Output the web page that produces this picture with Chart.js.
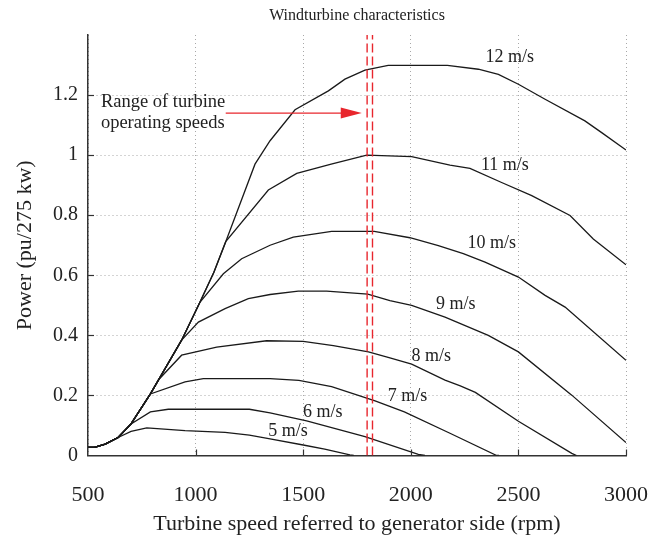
<!DOCTYPE html>
<html>
<head>
<meta charset="utf-8">
<title>Windturbine characteristics</title>
<script src="https://cdn.jsdelivr.net/npm/chart.js@4.4.0/dist/chart.umd.min.js"></script>
<style>
  html, body { margin: 0; padding: 0; background: #fff; }
  #wrap { width: 668px; height: 545px; }
</style>
</head>
<body>
<div id="wrap"><canvas id="windChart" width="668" height="545"></canvas></div>
<script>
// Turbine speed (rpm) and power (pu), one pair per wind speed
const rpm5  = [500, 530, 580, 640, 700, 773, 951, 1137, 1250, 1346, 1500, 1600, 1717, 1735];
const pow5  = [0.027, 0.027, 0.038, 0.060, 0.080, 0.092, 0.083, 0.077, 0.068, 0.055, 0.035, 0.021, 0.002, 0];

const rpm6  = [500, 530, 580, 640, 700, 790, 873, 1250, 1346, 1516, 1787, 2035, 2066];
const pow6  = [0.027, 0.027, 0.038, 0.060, 0.105, 0.145, 0.154, 0.154, 0.142, 0.115, 0.063, 0.004, 0];

const rpm7  = [500, 530, 580, 640, 700, 790, 951, 1036, 1346, 1480, 1632, 1834, 1970, 2182, 2399, 2410];
const pow7  = [0.027, 0.027, 0.038, 0.060, 0.105, 0.205, 0.245, 0.256, 0.256, 0.250, 0.229, 0.182, 0.145, 0.074, 0, 0];

const rpm8  = [500, 530, 580, 640, 700, 790, 830, 935, 1098, 1330, 1500, 1640, 1803, 1903, 2004, 2159, 2230, 2300, 2500, 2748, 2770];
const pow8  = [0.027, 0.027, 0.038, 0.060, 0.105, 0.205, 0.254, 0.334, 0.361, 0.382, 0.380, 0.366, 0.345, 0.325, 0.304, 0.251, 0.232, 0.210, 0.114, 0.007, 0];

const rpm9  = [500, 530, 580, 640, 700, 790, 935, 1013, 1137, 1245, 1346, 1477, 1609, 1800, 1903, 2004, 2159, 2360, 2500, 2748, 3000];
const pow9  = [0.027, 0.027, 0.038, 0.060, 0.105, 0.205, 0.384, 0.444, 0.489, 0.522, 0.536, 0.547, 0.547, 0.537, 0.516, 0.500, 0.461, 0.400, 0.345, 0.201, 0.043];

const rpm10 = [500, 530, 580, 640, 700, 790, 935, 1000, 1020, 1129, 1214, 1346, 1454, 1632, 1830, 1996, 2128, 2244, 2345, 2500, 2624, 2717, 3000];
const pow10 = [0.027, 0.027, 0.038, 0.060, 0.105, 0.205, 0.384, 0.480, 0.510, 0.605, 0.655, 0.700, 0.727, 0.746, 0.746, 0.725, 0.699, 0.672, 0.644, 0.594, 0.533, 0.494, 0.317];

const rpm11 = [500, 530, 580, 640, 700, 790, 935, 1000, 1020, 1085, 1140, 1338, 1470, 1630, 1795, 2004, 2182, 2275, 2422, 2562, 2740, 2848, 3000];
const pow11 = [0.027, 0.027, 0.038, 0.060, 0.105, 0.205, 0.384, 0.480, 0.510, 0.610, 0.712, 0.884, 0.939, 0.970, 1.000, 0.995, 0.967, 0.956, 0.909, 0.865, 0.799, 0.721, 0.635];

const rpm12 = [500, 530, 580, 640, 700, 790, 935, 1000, 1020, 1085, 1140, 1276, 1346, 1462, 1617, 1694, 1787, 1895, 2170, 2314, 2407, 2500, 2624, 2809, 2887, 3000];
const pow12 = [0.027, 0.027, 0.038, 0.060, 0.105, 0.205, 0.384, 0.480, 0.510, 0.610, 0.712, 0.970, 1.048, 1.151, 1.214, 1.253, 1.283, 1.299, 1.299, 1.286, 1.269, 1.236, 1.186, 1.114, 1.075, 1.017];

// curve labels (anchored in data units)
const speedNames = ['5 m/s', '6 m/s', '7 m/s', '8 m/s', '9 m/s', '10 m/s', '11 m/s', '12 m/s'];
const nameRpm    = [1429, 1591, 1985, 2095, 2209, 2376, 2437, 2460];
const namePow    = [0.082, 0.144, 0.198, 0.330, 0.505, 0.708, 0.965, 1.325];

// operating speed range and its note
const rangeRpm = [1797, 1822];
const arrowRpm = [1140, 1772];
const arrowPow = 1.14;
const noteLines = ['Range of turbine', 'operating speeds'];
const noteRpm = 560;
const notePow = [1.177, 1.107];

const xTicks = [500, 1000, 1500, 2000, 2500, 3000];
const yTicks = [0, 0.2, 0.4, 0.6, 0.8, 1, 1.2];

const SERIF = "'Liberation Serif', 'Times New Roman', serif";
const RED = '#e8262d';
const INK = '#222';

const pts = (xs, ys) => xs.map((v, i) => ({x: v, y: ys[i]}));

const curves = [
  [rpm5, pow5], [rpm6, pow6], [rpm7, pow7], [rpm8, pow8],
  [rpm9, pow9], [rpm10, pow10], [rpm11, pow11], [rpm12, pow12]
];

const datasets = [];
// red dashed lines first so they sit on top
rangeRpm.forEach(r => {
  datasets.push({
    data: [{x: r, y: 0}, {x: r, y: 1.4}],
    showLine: true,
    borderColor: RED,
    borderWidth: 1.4,
    borderDash: [9, 4],
    pointRadius: 0
  });
});
curves.forEach(([xs, ys]) => {
  datasets.push({
    data: pts(xs, ys),
    showLine: true,
    borderColor: '#1a1a1a',
    borderWidth: 1.3,
    tension: 0,
    pointRadius: 0
  });
});

// extra drawing: inward ticks, arrow, texts, title
const extras = {
  id: 'extras',
  afterDatasetsDraw(chart) {
    const {ctx, chartArea: a, scales: {x, y}} = chart;
    ctx.save();

    // tick marks pointing into the plot
    ctx.strokeStyle = '#333';
    ctx.lineWidth = 1.2;
    xTicks.slice(1).forEach(v => {
      const px = Math.round(x.getPixelForValue(v)) + 0.5;
      ctx.beginPath();
      ctx.moveTo(px, a.bottom);
      ctx.lineTo(px, a.bottom - 6);
      ctx.stroke();
    });
    yTicks.slice(1).forEach(v => {
      const py = Math.round(y.getPixelForValue(v)) + 0.5;
      ctx.beginPath();
      ctx.moveTo(a.left, py);
      ctx.lineTo(a.left + 6, py);
      ctx.stroke();
    });

    // arrow
    const ay = y.getPixelForValue(arrowPow);
    const ax0 = x.getPixelForValue(arrowRpm[0]);
    const ax1 = x.getPixelForValue(arrowRpm[1]);
    ctx.strokeStyle = RED;
    ctx.fillStyle = RED;
    ctx.lineWidth = 1.4;
    ctx.beginPath();
    ctx.moveTo(ax0, ay);
    ctx.lineTo(ax1 - 18, ay);
    ctx.stroke();
    ctx.beginPath();
    ctx.moveTo(ax1, ay);
    ctx.lineTo(ax1 - 21, ay - 5.5);
    ctx.lineTo(ax1 - 21, ay + 5.5);
    ctx.closePath();
    ctx.fill();

    // note
    ctx.fillStyle = INK;
    ctx.font = '18.5px ' + SERIF;
    ctx.textAlign = 'left';
    ctx.textBaseline = 'middle';
    noteLines.forEach((t, i) => {
      ctx.fillText(t, x.getPixelForValue(noteRpm), y.getPixelForValue(notePow[i]));
    });

    // wind speed labels
    ctx.font = '18px ' + SERIF;
    ctx.textAlign = 'center';
    speedNames.forEach((t, i) => {
      ctx.fillText(t, x.getPixelForValue(nameRpm[i]), y.getPixelForValue(namePow[i]));
    });

    // title
    ctx.font = '16px ' + SERIF;
    ctx.fillText('Windturbine characteristics', (a.left + a.right) / 2, 16);

    ctx.restore();
  }
};

const ctx = document.getElementById('windChart').getContext('2d');
new Chart(ctx, {
  type: 'scatter',
  data: { datasets },
  plugins: [extras],
  options: {
    responsive: false,
    animation: false,
    devicePixelRatio: 1,
    layout: { padding: { top: 35, right: 42, left: 0, bottom: 0 } },
    plugins: {
      legend: { display: false },
      tooltip: { enabled: false },
      title: { display: false }
    },
    scales: {
      x: {
        type: 'linear',
        min: 500,
        max: 3000,
        afterBuildTicks: s => { s.ticks = xTicks.map(v => ({value: v})); },
        afterFit: s => { s.height = 89.5; s.paddingLeft = 0; s.paddingRight = 0; },
        ticks: {
          callback: v => String(v),
          color: INK,
          padding: 27,
          maxRotation: 0,
          font: { family: SERIF, size: 22 }
        },
        grid: { color: '#a8a8a8', lineWidth: 1, drawTicks: false },
        border: { display: true, color: '#333', width: 1.5, dash: [1, 3] },
        title: {
          display: true,
          text: 'Turbine speed referred to generator side (rpm)',
          color: INK,
          font: { family: SERIF, size: 22 },
          padding: { top: 0, bottom: 8 }
        }
      },
      y: {
        type: 'linear',
        min: 0,
        max: 1.4,
        afterBuildTicks: s => { s.ticks = yTicks.map(v => ({value: v})); },
        afterFit: s => { s.width = 88; s.paddingTop = 0; s.paddingBottom = 0; },
        ticks: {
          callback: v => String(Number(v.toFixed(1))),
          color: INK,
          padding: 10,
          font: { family: SERIF, size: 20 }
        },
        grid: { color: '#a8a8a8', lineWidth: 1, drawTicks: false },
        border: { display: true, color: '#333', width: 1.5, dash: [1, 3] },
        title: {
          display: true,
          text: 'Power (pu/275 kw)',
          color: INK,
          font: { family: SERIF, size: 22 },
          padding: { top: 12, bottom: 0 }
        }
      }
    }
  }
});
</script>
</body>
</html>
